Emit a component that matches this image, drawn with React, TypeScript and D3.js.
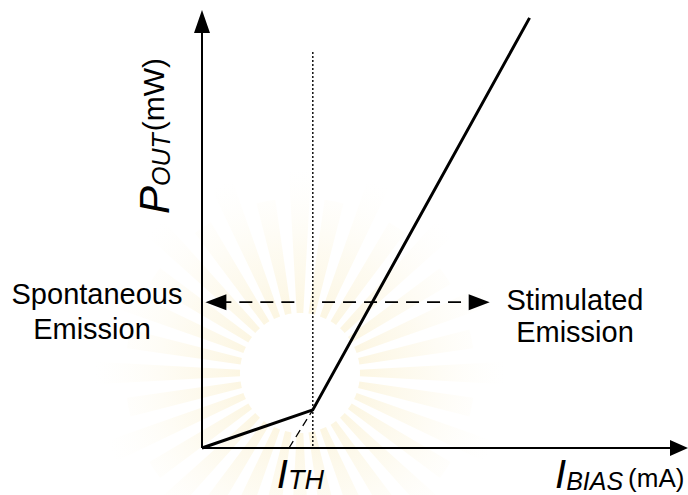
import React from "react";
import * as d3 from "d3";

const W = 688;
const H = 495;

// ---- data (I_BIAS in mA units, P_OUT in mW units, schematic) ----
const curveCurrent = [0, 2.28, 6.74];
const curvePower = [0, 0.87, 9.82];
const thresholdCurrent = 2.28;
const thresholdLineTop = 9.04;
const extrapCurrent = [1.79, 2.28];
const extrapPower = [0, 0.87];
const regionArrowPower = 3.33;
const spontaneousArrow = [1.9, 0.07]; // from -> to
const stimulatedArrow = [2.47, 5.92]; // from -> to
const xAxisMax = 10;
const yAxisMax = 10;
const leftLabelLines = ["Spontaneous", "Emission"];
const rightLabelLines = ["Stimulated", "Emission"];

const FONT = "Arial, 'Liberation Sans', Helvetica, sans-serif";

export default function App() {
  const x = d3.scaleLinear().domain([0, xAxisMax]).range([202, 688]);
  const y = d3.scaleLinear().domain([0, yAxisMax]).range([448, 10]);

  const line = d3
    .line<[number, number]>()
    .x((d) => x(d[0]))
    .y((d) => y(d[1]));

  const curvePts: [number, number][] = curveCurrent.map((c, i) => [c, curvePower[i]]);
  const extrapPts: [number, number][] = extrapCurrent.map((c, i) => [c, extrapPower[i]]);

  // faint watermark sunburst
  const wmCx = 300;
  const wmCy = 373;
  const rayN = 32;
  const arc = d3.arc();
  const rays = d3.range(rayN).map((i) => {
    const a = (i * 2 * Math.PI) / rayN;
    return arc({
      innerRadius: 60,
      outerRadius: i % 2 === 0 ? 205 : 175,
      startAngle: a - 0.055,
      endAngle: a + 0.055,
    } as any) as string;
  });

  const ay = y(regionArrowPower);
  const head = 21;
  const hw = 8;

  const xAx0 = x(0);
  const yAx0 = y(0);
  const xEnd = x(xAxisMax);
  const yTop = y(yAxisMax);

  return (
    <svg width={W} height={H} style={{ position: "absolute", left: 0, top: 0, background: "#fff" }}>
      <defs>
        <radialGradient id="rayGrad" gradientUnits="userSpaceOnUse" cx={0} cy={0} r={205}>
          <stop offset="0.3" stopColor="#f2d77f" stopOpacity={0.22} />
          <stop offset="0.6" stopColor="#f6e4a6" stopOpacity={0.16} />
          <stop offset="1" stopColor="#fbf3d8" stopOpacity={0} />
        </radialGradient>
      </defs>
      <rect x={0} y={0} width={W} height={H} fill="#fff" />
      <g transform={`translate(${wmCx},${wmCy})`}>
        {rays.map((d, i) => (
          <path key={i} d={d} fill="url(#rayGrad)" />
        ))}
      </g>

      {/* threshold dotted line */}
      <line
        x1={x(thresholdCurrent)}
        x2={x(thresholdCurrent)}
        y1={y(thresholdLineTop)}
        y2={yAx0}
        stroke="#000"
        strokeWidth={1.4}
        strokeDasharray="2,2"
      />

      {/* axes */}
      <line x1={xAx0} x2={xAx0} y1={yAx0} y2={yTop + 20} stroke="#000" strokeWidth={2} />
      <polygon points={`${xAx0},${yTop} ${xAx0 - hw},${yTop + 23} ${xAx0 + hw},${yTop + 23}`} fill="#000" />
      <line x1={xAx0} x2={xEnd - 15} y1={yAx0} y2={yAx0} stroke="#000" strokeWidth={2} />
      <polygon points={`${xEnd},${yAx0} ${xEnd - 18},${yAx0 - hw} ${xEnd - 18},${yAx0 + hw}`} fill="#000" />

      {/* extrapolation dashed */}
      <path d={line(extrapPts) || ""} fill="none" stroke="#000" strokeWidth={1.3} strokeDasharray="8,5" />

      {/* L-I curve */}
      <path d={line(curvePts) || ""} fill="none" stroke="#000" strokeWidth={3} strokeLinejoin="round" />

      {/* region arrows */}
      <line
        x1={x(spontaneousArrow[0])}
        x2={x(spontaneousArrow[1]) + head - 2}
        y1={ay}
        y2={ay}
        stroke="#000"
        strokeWidth={1.8}
        strokeDasharray="13,8"
      />
      <polygon
        points={`${x(spontaneousArrow[1])},${ay} ${x(spontaneousArrow[1]) + head},${ay - hw} ${x(spontaneousArrow[1]) + head},${ay + hw}`}
        fill="#000"
      />
      <line
        x1={x(stimulatedArrow[0])}
        x2={x(stimulatedArrow[1]) - head + 2}
        y1={ay}
        y2={ay}
        stroke="#000"
        strokeWidth={1.8}
        strokeDasharray="13,8"
      />
      <polygon
        points={`${x(stimulatedArrow[1])},${ay} ${x(stimulatedArrow[1]) - head},${ay - hw} ${x(stimulatedArrow[1]) - head},${ay + hw}`}
        fill="#000"
      />

      {/* region labels */}
      <g fontFamily={FONT} fontSize={29} fill="#000" textAnchor="middle">
        <text x={97} y={304}>{leftLabelLines[0]}</text>
        <text x={92} y={339}>{leftLabelLines[1]}</text>
        <text x={575} y={310}>{rightLabelLines[0]}</text>
        <text x={575} y={342}>{rightLabelLines[1]}</text>
      </g>

      {/* y axis title */}
      <text transform="translate(169,214) rotate(-90)" fontFamily={FONT} fill="#000">
        <tspan fontStyle="italic" fontSize={42}>P</tspan>
        <tspan fontStyle="italic" fontSize={25} dy={1}>OUT</tspan>
        <tspan fontSize={30} dy={-6} dx={2}>(mW)</tspan>
      </text>

      {/* threshold label */}
      <text x={x(thresholdCurrent) - 36} y={488} fontFamily={FONT} fill="#000">
        <tspan fontStyle="italic" fontSize={40}>I</tspan>
        <tspan fontStyle="italic" fontSize={27} dy={1}>TH</tspan>
      </text>

      {/* x axis title */}
      <text x={555} y={488} fontFamily={FONT} fill="#000">
        <tspan fontStyle="italic" fontSize={40}>I</tspan>
        <tspan fontStyle="italic" fontSize={25} dy={2}>BIAS</tspan>
        <tspan fontSize={26} dy={-3} dx={5}>(mA)</tspan>
      </text>
    </svg>
  );
}
